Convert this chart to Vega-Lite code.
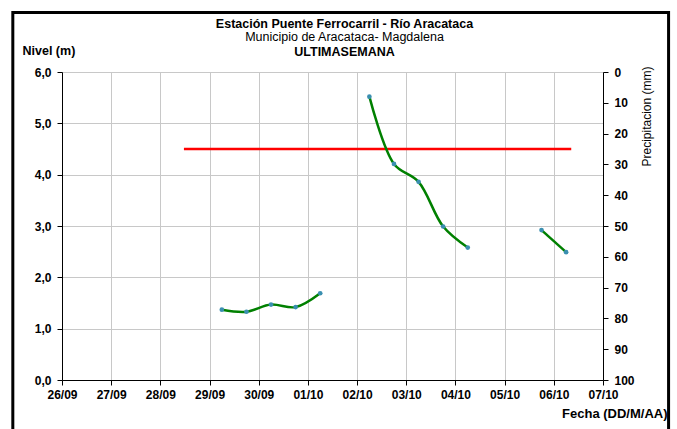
{
  "$schema": "https://vega.github.io/schema/vega-lite/v6.json",
  "width": 541,
  "height": 308,
  "autosize": {"type": "none"},
  "padding": {"left": 62, "top": 72, "right": 74, "bottom": 49},
  "background": "white",
  "config": {
    "font": "Liberation Sans",
    "view": {"stroke": null},
    "axis": {
      "labelFont": "Liberation Sans",
      "titleFont": "Liberation Sans",
      "labelColor": "black",
      "titleColor": "black",
      "domainColor": "black",
      "tickColor": "black",
      "gridColor": "#c8c8c8",
      "labelFontWeight": "bold",
      "labelFontSize": 12,
      "titleFontSize": 12
    }
  },
  "title": {
    "text": "Estación Puente Ferrocarril - Río Aracataca",
    "subtitle": "Municipio de Aracataca- Magdalena",
    "font": "Liberation Sans",
    "fontSize": 12.5,
    "fontWeight": "bold",
    "color": "black",
    "subtitleFont": "Liberation Sans",
    "subtitleFontSize": 12.5,
    "subtitleFontWeight": "normal",
    "subtitleColor": "black",
    "subtitlePadding": 1,
    "anchor": "middle",
    "frame": "group",
    "offset": 0,
    "dx": 12,
    "dy": 33
  },
  "datasets": {
    "nivel": [
      {"fecha": "2011-09-29T06:00:00", "nivel": 1.37, "tramo": "A"},
      {"fecha": "2011-09-29T18:00:00", "nivel": 1.33, "tramo": "A"},
      {"fecha": "2011-09-30T06:00:00", "nivel": 1.47, "tramo": "A"},
      {"fecha": "2011-09-30T18:00:00", "nivel": 1.42, "tramo": "A"},
      {"fecha": "2011-10-01T06:00:00", "nivel": 1.69, "tramo": "A"},
      {"fecha": "2011-10-02T06:00:00", "nivel": 5.52, "tramo": "B"},
      {"fecha": "2011-10-02T18:00:00", "nivel": 4.21, "tramo": "B"},
      {"fecha": "2011-10-03T06:00:00", "nivel": 3.86, "tramo": "B"},
      {"fecha": "2011-10-03T18:00:00", "nivel": 2.99, "tramo": "B"},
      {"fecha": "2011-10-04T06:00:00", "nivel": 2.58, "tramo": "B"},
      {"fecha": "2011-10-05T18:00:00", "nivel": 2.92, "tramo": "C"},
      {"fecha": "2011-10-06T06:00:00", "nivel": 2.49, "tramo": "C"}
    ],
    "umbral": [
      {"fecha": "2011-09-28T11:30:00", "nivel": 4.5},
      {"fecha": "2011-10-06T08:30:00", "nivel": 4.5}
    ]
  },
  "layer": [
    {
      "layer": [
        {
          "data": {"values": [{}]},
          "mark": {"type": "rect", "fill": null, "stroke": "black", "strokeWidth": 3, "clip": false},
          "encoding": {
            "x": {"datum": {"year": 2011, "month": 9, "date": 25}, "type": "temporal",
                  "scale": {"domain": [{"year": 2011, "month": 9, "date": 26}, {"year": 2011, "month": 10, "date": 7}]}},
            "x2": {"datum": {"year": 2011, "month": 10, "date": 8, "hours": 8}},
            "y": {"datum": 7.16, "type": "quantitative", "scale": {"domain": [0, 6], "nice": false}},
            "y2": {"datum": -1.5}
          }
        },
        {
          "data": {"name": "umbral"},
          "mark": {"type": "line", "color": "#ff0000", "strokeWidth": 2.5, "clip": false},
          "encoding": {
            "x": {"field": "fecha", "type": "temporal"},
            "y": {"field": "nivel", "type": "quantitative"}
          }
        },
        {
          "data": {"name": "nivel"},
          "mark": {"type": "line", "color": "#008000", "strokeWidth": 2.5, "interpolate": "catmull-rom", "clip": false},
          "encoding": {
            "x": {
              "field": "fecha", "type": "temporal",
              "scale": {"domain": [{"year": 2011, "month": 9, "date": 26}, {"year": 2011, "month": 10, "date": 7}]},
              "axis": {
                "format": "%d/%m",
                "tickCount": {"interval": "day", "step": 1},
                "labelAngle": 0,
                "labelFlush": false,
                "labelOverlap": false,
                "labelPadding": 4,
                "tickSize": 5,
                "grid": true,
                "title": "Fecha (DD/M/AA)",
                "titleFontWeight": "bold",
                "titleFontSize": 13,
                "titleAlign": "right",
                "titleAnchor": null,
                "titleX": 605,
                "titleY": 37,
                "titleBaseline": "alphabetic"
              }
            },
            "y": {
              "field": "nivel", "type": "quantitative",
              "scale": {"domain": [0, 6], "nice": false},
              "axis": {
                "values": [0, 1, 2, 3, 4, 5, 6],
                "labelExpr": "replace(format(datum.value, '.1f'), '.', ',')",
                "labelPadding": 6,
                "tickSize": 5,
                "grid": true,
                "title": "Nivel (m)",
                "titleFontWeight": "bold",
                "titleFontSize": 12.5,
                "titleAngle": 0,
                "titleAlign": "left",
                "titleAnchor": null,
                "titleX": -40,
                "titleY": -18,
                "titleBaseline": "alphabetic"
              }
            },
            "detail": {"field": "tramo"}
          }
        },
        {
          "data": {"name": "nivel"},
          "mark": {"type": "point", "filled": true, "size": 22, "color": "#3a8fb0", "opacity": 1, "clip": false},
          "encoding": {
            "x": {"field": "fecha", "type": "temporal"},
            "y": {"field": "nivel", "type": "quantitative"}
          }
        }
      ]
    },
    {
      "data": {"values": [{"fecha": "2011-10-01T00:00:00", "precip": 0}]},
      "mark": {"type": "point", "opacity": 0, "clip": false},
      "encoding": {
        "x": {
          "field": "fecha", "type": "temporal",
          "scale": {"domain": [{"year": 2011, "month": 9, "date": 26}, {"year": 2011, "month": 10, "date": 7}]},
          "axis": {
            "orient": "top",
            "labels": false,
            "ticks": false,
            "domain": false,
            "grid": false,
            "title": "ULTIMASEMANA",
            "titleFontWeight": "bold",
            "titleFontSize": 12.5,
            "titleAnchor": null,
            "titleAlign": "center",
            "titleX": 282,
            "titleY": -17,
            "titleBaseline": "alphabetic"
          }
        },
        "y": {
          "field": "precip", "type": "quantitative",
          "scale": {"domain": [0, 100], "reverse": true, "nice": false},
          "axis": {
            "orient": "right",
            "values": [0, 10, 20, 30, 40, 50, 60, 70, 80, 90, 100],
            "format": "d",
            "labelPadding": 6,
            "tickSize": 5,
            "grid": false,
            "title": "Precipitacion (mm)",
            "titleFontWeight": "normal",
            "titleAngle": 270,
            "titleAlign": "left",
            "titleAnchor": null,
            "titleX": 47,
            "titleY": 94,
            "titleBaseline": "alphabetic"
          }
        }
      }
    }
  ],
  "resolve": {"scale": {"y": "independent"}, "axis": {"x": "independent", "y": "independent"}}
}
